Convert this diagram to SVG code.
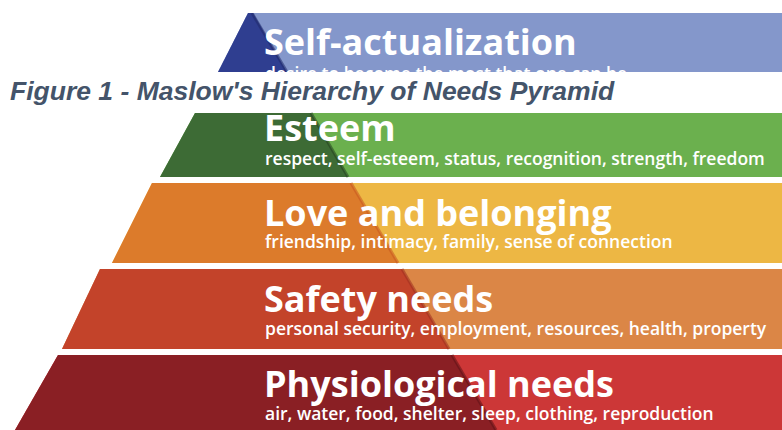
<svg xmlns="http://www.w3.org/2000/svg" width="782" height="430" viewBox="0 0 782 430">
  <style>
    .title { font-family: "Open Sans", "Liberation Sans", sans-serif; font-weight: 700; font-size: 36px; fill: #ffffff; }
    .sub { font-family: "Open Sans", "Liberation Sans", sans-serif; font-weight: 600; font-size: 17.5px; fill: #ffffff; }
    .edge { stroke-width: 3; opacity: 0.55; }
    .caption { font-family: "Liberation Sans", Arial, sans-serif; font-weight: 700; font-style: italic; font-size: 26.5px; fill: #44546a; }
  </style>
  <defs>
    <clipPath id="clip-top"><rect x="0" y="13" width="782" height="59"/></clipPath>
  </defs>
  <rect width="782" height="430" fill="#ffffff"/>

  <!-- Top tier, its lower part hidden under the caption strip -->
  <g id="self-actualization" clip-path="url(#clip-top)">
    <polygon points="248,13 782,13 782,72 218,72" fill="#8497cb"/>
    <polygon points="248,13 253,13 287,72 218,72" fill="#2f3e90"/>
    <line x1="252" y1="13" x2="287" y2="72" stroke="#1f2a6a" class="edge"/>
    <text class="title" x="264" y="55">Self-actualization</text>
    <text class="sub" x="265" y="80">desire to become the most that one can be</text>
  </g>

  <!-- Esteem tier -->
  <g id="esteem">
    <polygon points="195,113 782,113 782,177 160,177" fill="#6bb04e"/>
    <polygon points="195,113 311,113 348,177 160,177" fill="#3d6b35"/>
    <line x1="311" y1="113" x2="348" y2="177" stroke="#24401f" class="edge"/>
    <text class="title" x="264" y="141">Esteem</text>
    <text class="sub" x="265" y="165">respect, self-esteem, status, recognition, strength, freedom</text>
  </g>

  <!-- Love and belonging tier -->
  <g id="love-belonging">
    <polygon points="152,183 782,183 782,263 112,263" fill="#edb744"/>
    <polygon points="152,183 351,183 398,263 112,263" fill="#dc7b2b"/>
    <line x1="351" y1="183" x2="398" y2="263" stroke="#c8551f" class="edge"/>
    <text class="title" x="264" y="226">Love and belonging</text>
    <text class="sub" x="265" y="248">friendship, intimacy, family, sense of connection</text>
  </g>

  <!-- Safety tier -->
  <g id="safety">
    <polygon points="100,269 782,269 782,349 62,349" fill="#db8646"/>
    <polygon points="100,269 402,269 449,349 62,349" fill="#c3432a"/>
    <line x1="402" y1="269" x2="449" y2="349" stroke="#9e2f1f" class="edge"/>
    <text class="title" x="264" y="312">Safety needs</text>
    <text class="sub" x="265" y="335">personal security, employment, resources, health, property</text>
  </g>

  <!-- Physiological tier -->
  <g id="physiological">
    <polygon points="58,355 782,355 782,430 15,430" fill="#cc3737"/>
    <polygon points="58,355 452,355 496,430 15,430" fill="#8a1f24"/>
    <line x1="452" y1="355" x2="496" y2="430" stroke="#5e1216" class="edge"/>
    <text class="title" x="264" y="397">Physiological needs</text>
    <text class="sub" x="265" y="420">air, water, food, shelter, sleep, clothing, reproduction</text>
  </g>

  <!-- Caption -->
  <g id="caption">
    <text class="caption" x="10" y="100">Figure 1 - Maslow's Hierarchy of Needs Pyramid</text>
  </g>
</svg>
